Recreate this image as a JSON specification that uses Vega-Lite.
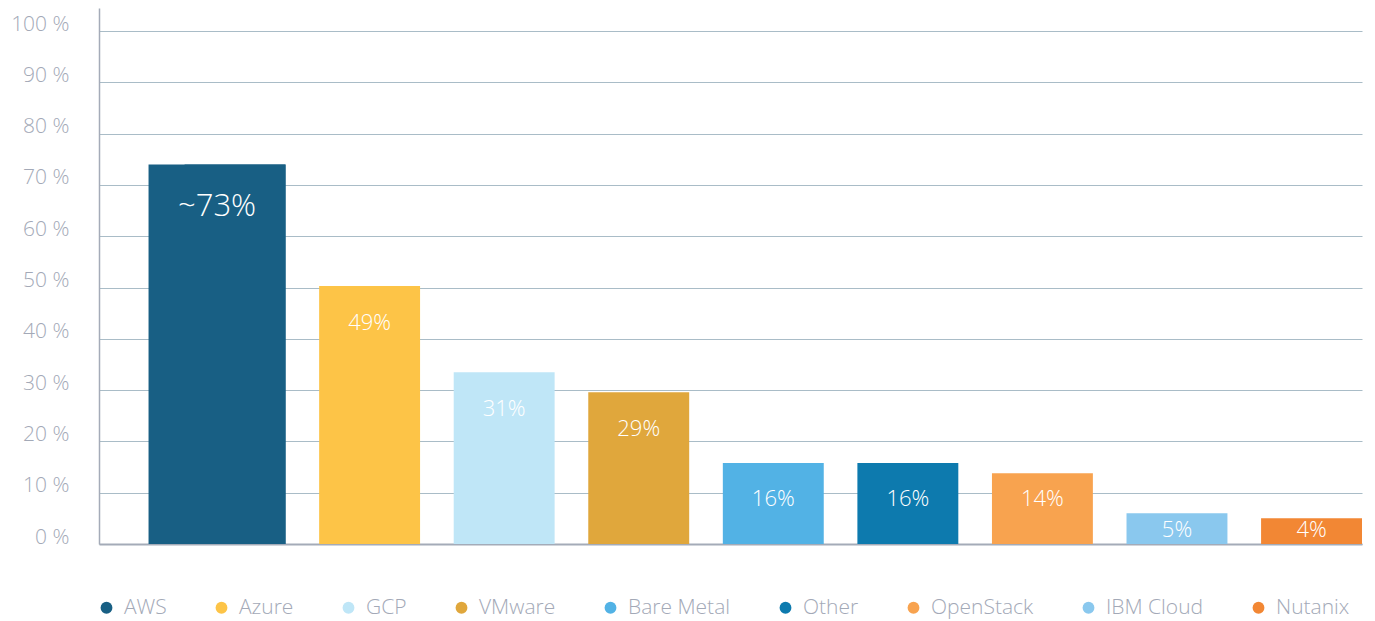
{
  "$schema": "https://vega.github.io/schema/vega-lite/v6.json",
  "width": 1263,
  "height": 536,
  "autosize": "none",
  "padding": {"left": 99, "top": 8, "right": 13, "bottom": 77},
  "background": "white",
  "config": {
    "view": {"stroke": null},
    "font": "Open Sans"
  },
  "data": {
    "values": [
      {"provider": "AWS", "value": 74, "label": "~73%"},
      {"provider": "Azure", "value": 50.3, "label": "49%"},
      {"provider": "GCP", "value": 33.5, "label": "31%"},
      {"provider": "VMware", "value": 29.6, "label": "29%"},
      {"provider": "Bare Metal", "value": 15.8, "label": "16%"},
      {"provider": "Other", "value": 15.8, "label": "16%"},
      {"provider": "OpenStack", "value": 13.8, "label": "14%"},
      {"provider": "IBM Cloud", "value": 6, "label": "5%"},
      {"provider": "Nutanix", "value": 5, "label": "4%"}
    ]
  },
  "encoding": {
    "x": {
      "field": "provider",
      "type": "nominal",
      "sort": null,
      "scale": {"type": "band", "paddingInner": 0.25, "paddingOuter": 0.318, "align": 1},
      "axis": {"title": null, "labels": false, "ticks": false, "domainColor": "#a4abb8", "domainWidth": 2, "grid": false}
    },
    "y": {
      "field": "value",
      "type": "quantitative",
      "scale": {"domain": [0, 104.5], "nice": false},
      "axis": {
        "title": null,
        "values": [0, 10, 20, 30, 40, 50, 60, 70, 80, 90, 100],
        "labelExpr": "datum.value + ' %'",
        "ticks": false,
        "labelPadding": 30,
        "labelOffset": -7,
        "labelFontSize": 21,
        "labelFontWeight": 300,
        "labelColor": "#a3a9b7",
        "domainColor": "#a4abb8",
        "domainWidth": 1.5,
        "grid": true,
        "gridColor": "#a9bcc7",
        "gridWidth": 1
      }
    }
  },
  "layer": [
    {
      "mark": {"type": "bar"},
      "encoding": {
        "color": {
          "field": "provider",
          "type": "nominal",
          "sort": null,
          "scale": {
            "domain": ["AWS", "Azure", "GCP", "VMware", "Bare Metal", "Other", "OpenStack", "IBM Cloud", "Nutanix"],
            "range": ["#185f84", "#fdc447", "#bfe6f7", "#e0a73c", "#52b2e5", "#0d7aae", "#f8a34f", "#8ac8ee", "#f28734"]
          },
          "legend": {
            "title": null,
            "orient": "none",
            "direction": "horizontal",
            "columns": 9,
            "legendX": -3,
            "legendY": 589,
            "symbolType": "circle",
            "symbolSize": 140,
            "symbolStrokeWidth": 0,
            "labelFontSize": 21,
            "labelFontWeight": 300,
            "labelColor": "#a3a9b7",
            "labelOffset": 7,
            "columnPadding": 44
          }
        }
      }
    },
    {
      "transform": [{"filter": "datum.provider === 'AWS'"}],
      "mark": {"type": "bar", "size": 137, "xOffset": -18, "color": "#185f84"}
    },
    {
      "transform": [{"filter": "datum.provider === 'AWS'"}],
      "mark": {"type": "text", "color": "white", "fontSize": 31, "fontWeight": 300, "baseline": "middle", "dy": 43, "dx": -18},
      "encoding": {"text": {"field": "label"}}
    },
    {
      "transform": [{"filter": "datum.provider !== 'AWS' && datum.value >= 20"}],
      "mark": {"type": "text", "color": "white", "fontSize": 22, "fontWeight": 300, "baseline": "middle", "dy": 37},
      "encoding": {"text": {"field": "label"}}
    },
    {
      "transform": [{"filter": "datum.value >= 10 && datum.value < 20"}],
      "mark": {"type": "text", "color": "white", "fontSize": 22, "fontWeight": 300, "baseline": "middle", "dy": -45},
      "encoding": {"y": {"datum": 0}, "text": {"field": "label"}}
    },
    {
      "transform": [{"filter": "datum.value < 10"}],
      "mark": {"type": "text", "color": "white", "fontSize": 22, "fontWeight": 300, "baseline": "middle", "dy": -14},
      "encoding": {"y": {"datum": 0}, "text": {"field": "label"}}
    }
  ]
}
